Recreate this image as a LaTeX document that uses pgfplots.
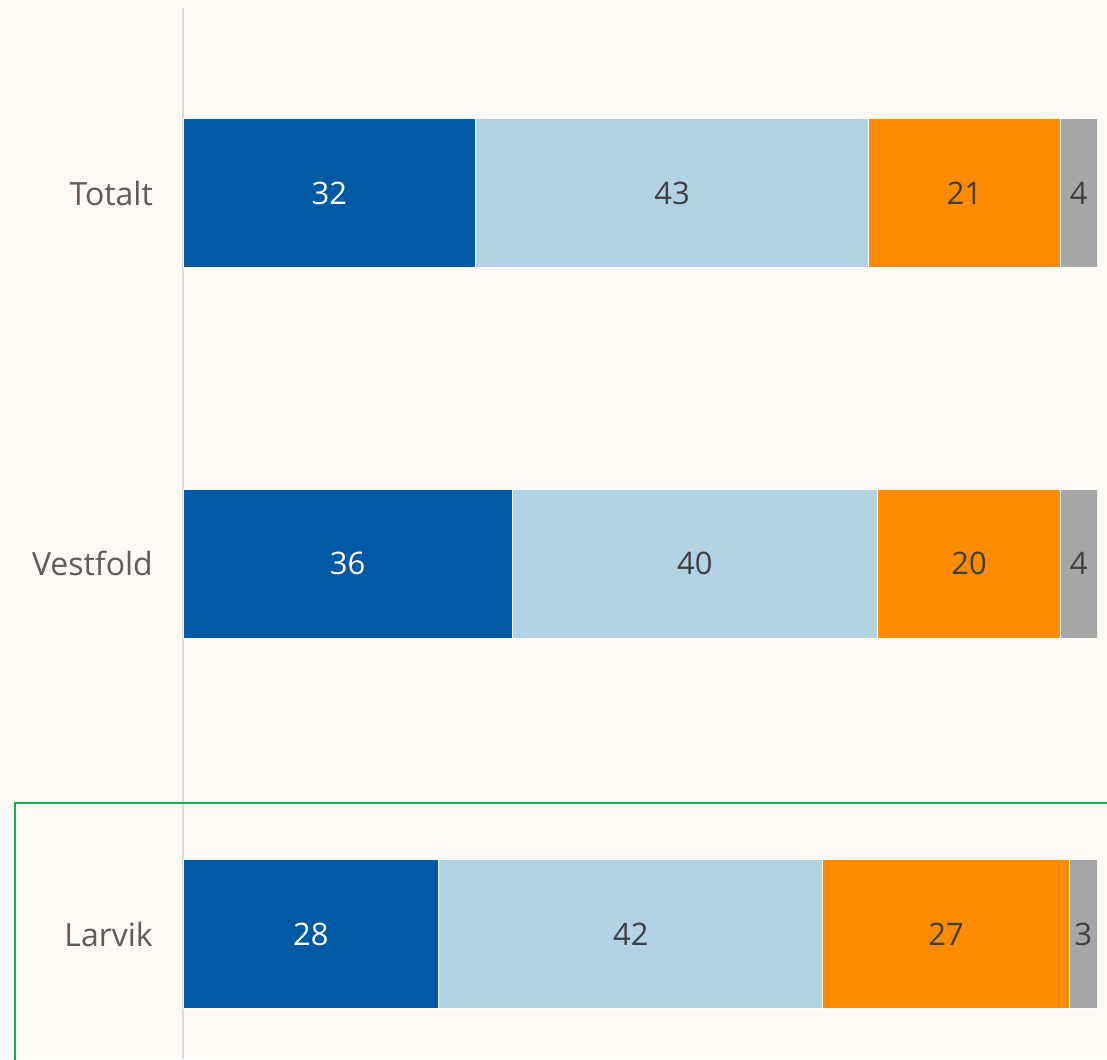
\documentclass[border=0pt]{standalone}
\usepackage{fontspec}
\setmainfont{Open Sans}
\usepackage{pgfplots}
\pgfplotsset{compat=1.18}
\definecolor{bg}{HTML}{FDF9F5}
\definecolor{c1}{HTML}{005AA3}
\definecolor{c2}{HTML}{B2D3E3}
\definecolor{c3}{HTML}{FF8C00}
\definecolor{c4}{HTML}{A6A6A6}
\definecolor{lbl}{HTML}{5C5C5C}
\definecolor{val}{HTML}{404040}
\definecolor{frame}{HTML}{14B050}
\definecolor{axisline}{HTML}{DCDAD8}
\begin{document}
\begin{tikzpicture}
\fill[bg] (0pt,0pt) rectangle (1107pt,-1059pt);
\begin{axis}[
  at={(183pt,-8pt)}, anchor=north west,
  scale only axis, width=914pt, height=1051pt,
  xbar stacked, bar width=149pt,
  xmin=0, xmax=100, ymin=-0.5, ymax=2.337, y dir=reverse,
  axis x line=none, axis y line*=left,
  y axis line style={-, draw=axisline, line width=2pt},
  ytick={0,1,2}, yticklabels={Totalt,Vestfold,Larvik},
  major tick length=0pt, ytick style={draw=none},
  /pgf/number format/assume math mode=true,
  yticklabel style={font=\fontsize{32}{36}\selectfont, text=lbl, inner sep=0pt, xshift=-30pt},
  nodes near coords,
  % labels already sit in the middle of each segment
  every node near coord/.style={anchor=center,
    font=\fontsize{31}{36}\selectfont, text=val},
  every axis plot/.append style={draw=white, line width=1pt},
]
% segments, left to right
\addplot[fill=c1, every node near coord/.append style={text=white}]
  coordinates {(32,0) (36,1) (28,2)};
\addplot[fill=c2] coordinates {(43,0) (40,1) (42,2)};
\addplot[fill=c3] coordinates {(21,0) (20,1) (27,2)};
\addplot[fill=c4] coordinates {(4,0) (4,1) (3,2)};
\end{axis}
% highlight frame round the last row
\draw[frame, line width=2pt] (15pt,-803pt) rectangle (1130pt,-1080pt);
\pgfresetboundingbox
\path[use as bounding box] (0pt,0pt) rectangle (1107pt,-1059pt);
\end{tikzpicture}
\end{document}
